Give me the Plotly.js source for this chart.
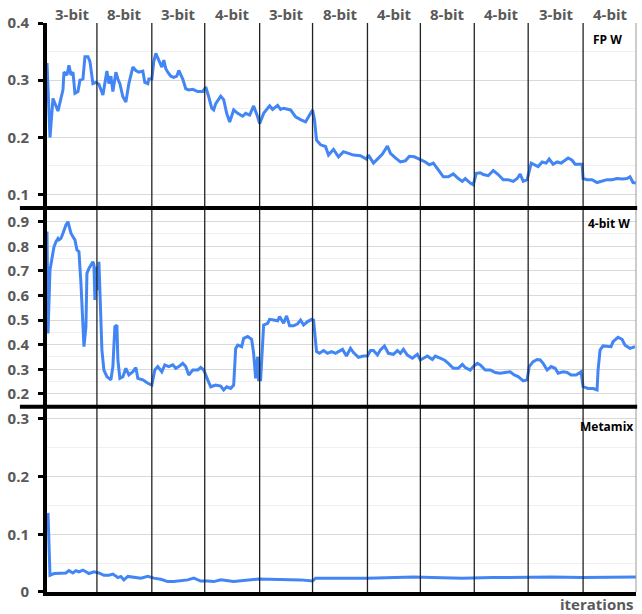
<!DOCTYPE html>
<html>
<head>
<meta charset="utf-8">
<script src="https://cdn.plot.ly/plotly-3.0.1.min.js"></script>
<style>
  html, body { margin: 0; padding: 0; background: #fff; }
  #chart { width: 642px; height: 614px; }
</style>
</head>
<body>
<div id="chart"></div>
<script>
// Training phases: bit-width used in each phase and the iteration where each phase starts/ends
const phaseLabels = ["3-bit", "8-bit", "3-bit", "4-bit", "3-bit", "8-bit", "4-bit", "8-bit", "4-bit", "3-bit", "4-bit"];
const phaseEdges = [4, 54, 109, 162, 217, 270, 325, 378, 432, 486, 541, 594];

// Panel 1: FP W
const fpIter = [4, 7, 10, 15, 20, 21, 24, 26, 28, 30, 32, 35, 37, 40, 42, 45, 47, 50, 53, 56, 60, 62, 64, 66, 68, 70, 73, 75, 77, 80, 83, 86, 90, 93, 96, 100, 102, 105, 106, 109, 111, 113, 116, 119, 121, 123, 125, 128, 131, 134, 136, 140, 143, 146, 150, 155, 160, 163, 166, 169, 171, 173, 178, 181, 184, 187, 191, 195, 200, 203, 207, 211, 215, 217, 221, 224, 227, 230, 235, 238, 241, 248, 253, 258, 263, 266, 270, 272, 274, 278, 283, 286, 291, 296, 301, 306, 311, 318, 324, 326, 331, 335, 340, 345, 348, 353, 358, 363, 367, 372, 377, 383, 387, 391, 396, 401, 406, 411, 416, 420, 423, 428, 431, 434, 438, 441, 446, 451, 456, 461, 466, 471, 475, 478, 481, 485, 489, 493, 496, 500, 504, 507, 511, 515, 519, 523, 526, 530, 533, 540, 541, 545, 550, 555, 560, 565, 570, 575, 580, 585, 588, 591, 594];
const fpVal = [0.33, 0.2, 0.268, 0.246, 0.283, 0.314, 0.309, 0.326, 0.309, 0.314, 0.277, 0.28, 0.3, 0.302, 0.341, 0.341, 0.333, 0.294, 0.296, 0.293, 0.274, 0.296, 0.316, 0.294, 0.307, 0.28, 0.314, 0.302, 0.294, 0.271, 0.262, 0.294, 0.323, 0.317, 0.314, 0.316, 0.296, 0.294, 0.302, 0.302, 0.333, 0.347, 0.335, 0.323, 0.335, 0.32, 0.314, 0.307, 0.305, 0.307, 0.317, 0.302, 0.285, 0.283, 0.284, 0.28, 0.28, 0.288, 0.271, 0.251, 0.248, 0.259, 0.272, 0.266, 0.242, 0.227, 0.248, 0.242, 0.237, 0.242, 0.239, 0.255, 0.236, 0.224, 0.242, 0.248, 0.255, 0.249, 0.256, 0.249, 0.251, 0.248, 0.236, 0.231, 0.227, 0.236, 0.248, 0.23, 0.195, 0.187, 0.184, 0.169, 0.179, 0.166, 0.175, 0.172, 0.169, 0.168, 0.162, 0.169, 0.155, 0.162, 0.171, 0.185, 0.172, 0.164, 0.157, 0.159, 0.167, 0.166, 0.162, 0.157, 0.152, 0.155, 0.143, 0.131, 0.131, 0.136, 0.128, 0.123, 0.128, 0.12, 0.117, 0.137, 0.138, 0.135, 0.133, 0.142, 0.135, 0.126, 0.126, 0.123, 0.128, 0.136, 0.123, 0.126, 0.155, 0.152, 0.149, 0.157, 0.155, 0.162, 0.153, 0.157, 0.155, 0.16, 0.164, 0.16, 0.153, 0.153, 0.128, 0.126, 0.126, 0.121, 0.123, 0.126, 0.126, 0.128, 0.127, 0.128, 0.131, 0.121, 0.12];

// Panel 2: 4-bit W
const w4Iter = [4, 5, 7, 10, 11, 13, 15, 16, 18, 20, 21, 23, 25, 26, 28, 30, 32, 34, 36, 38, 40, 41, 43, 44, 46, 50, 51, 52, 54, 55, 56, 57, 59, 61, 64, 68, 70, 72, 74, 75, 77, 80, 83, 86, 90, 93, 95, 100, 105, 109, 112, 115, 119, 122, 126, 130, 133, 136, 140, 143, 146, 150, 155, 158, 161, 165, 168, 173, 178, 181, 184, 188, 191, 193, 195, 199, 201, 205, 209, 211, 213, 215, 216, 218, 220, 221, 225, 227, 231, 235, 237, 241, 244, 247, 251, 255, 258, 261, 265, 269, 271, 274, 277, 281, 285, 289, 293, 296, 300, 304, 308, 311, 316, 321, 325, 328, 331, 335, 338, 342, 346, 351, 355, 358, 361, 365, 370, 375, 378, 385, 390, 393, 398, 402, 406, 411, 416, 420, 423, 428, 431, 435, 438, 443, 448, 453, 458, 463, 468, 472, 476, 481, 485, 487, 491, 495, 498, 501, 505, 509, 513, 516, 521, 525, 529, 534, 539, 541, 546, 551, 555, 556, 558, 561, 565, 569, 571, 576, 580, 583, 588, 593];
const w4Val = [0.86, 0.446, 0.704, 0.785, 0.798, 0.819, 0.832, 0.826, 0.832, 0.853, 0.866, 0.887, 0.9, 0.887, 0.853, 0.839, 0.826, 0.785, 0.778, 0.65, 0.446, 0.392, 0.473, 0.69, 0.71, 0.737, 0.724, 0.582, 0.718, 0.622, 0.737, 0.582, 0.378, 0.297, 0.27, 0.257, 0.311, 0.473, 0.48, 0.338, 0.263, 0.27, 0.304, 0.277, 0.29, 0.307, 0.263, 0.257, 0.243, 0.236, 0.297, 0.311, 0.29, 0.318, 0.311, 0.318, 0.304, 0.311, 0.324, 0.311, 0.277, 0.297, 0.297, 0.307, 0.297, 0.257, 0.229, 0.236, 0.232, 0.216, 0.229, 0.222, 0.236, 0.385, 0.398, 0.392, 0.426, 0.433, 0.422, 0.365, 0.263, 0.351, 0.257, 0.257, 0.446, 0.48, 0.487, 0.503, 0.5, 0.497, 0.514, 0.487, 0.517, 0.477, 0.477, 0.485, 0.5, 0.48, 0.494, 0.503, 0.5, 0.372, 0.365, 0.376, 0.365, 0.372, 0.365, 0.372, 0.381, 0.354, 0.385, 0.368, 0.349, 0.354, 0.354, 0.376, 0.376, 0.358, 0.379, 0.395, 0.365, 0.361, 0.376, 0.365, 0.381, 0.358, 0.345, 0.361, 0.338, 0.354, 0.34, 0.354, 0.345, 0.338, 0.324, 0.304, 0.304, 0.32, 0.307, 0.297, 0.311, 0.324, 0.318, 0.297, 0.297, 0.287, 0.284, 0.287, 0.29, 0.277, 0.27, 0.253, 0.257, 0.311, 0.331, 0.34, 0.338, 0.324, 0.297, 0.311, 0.304, 0.284, 0.29, 0.287, 0.277, 0.277, 0.29, 0.229, 0.222, 0.222, 0.216, 0.297, 0.378, 0.395, 0.395, 0.392, 0.412, 0.43, 0.422, 0.398, 0.385, 0.392];

// Panel 3: Metamix
const mmIter = [5, 7, 11, 18, 23, 26, 30, 33, 36, 40, 43, 46, 51, 56, 61, 66, 70, 75, 78, 81, 85, 91, 98, 105, 111, 118, 125, 131, 138, 145, 151, 158, 165, 171, 178, 191, 216, 258, 270, 273, 325, 371, 390, 420, 450, 480, 510, 540, 570, 594];
const mmVal = [0.137, 0.029, 0.032, 0.032, 0.033, 0.037, 0.033, 0.037, 0.035, 0.038, 0.035, 0.032, 0.035, 0.033, 0.029, 0.029, 0.031, 0.025, 0.027, 0.021, 0.027, 0.025, 0.024, 0.027, 0.024, 0.022, 0.018, 0.018, 0.019, 0.021, 0.024, 0.019, 0.019, 0.018, 0.021, 0.018, 0.0225, 0.021, 0.019, 0.024, 0.024, 0.026, 0.025, 0.024, 0.025, 0.026, 0.026, 0.025, 0.026, 0.026];

const panelNames = ["FP W", "4-bit W", "Metamix"];
const yRanges = [[0.0766, 0.4], [0.148, 0.956], [0, 0.321]];

const lineColor = "#4285f4";
const tickFont = { family: "Open Sans, sans-serif", size: 15, color: "#595959", weight: 700 };

// Vertical extents of the three stacked panels (bottom to top in paper units)
const domains = [[0.675, 1], [0.3257, 0.675], [0, 0.3257]];

const series = [[fpIter, fpVal], [w4Iter, w4Val], [mmIter, mmVal]];
const traces = series.map((s, i) => ({
  x: s[0], y: s[1],
  xaxis: i === 0 ? "x" : "x" + (i + 1),
  yaxis: i === 0 ? "y" : "y" + (i + 1),
  type: "scatter", mode: "lines",
  line: { color: lineColor, width: 3 },
  hoverinfo: "skip"
}));

const layout = {
  width: 642, height: 614,
  margin: { l: 47, r: 6, t: 23, b: 22 },
  paper_bgcolor: "#fff", plot_bgcolor: "#fff",
  showlegend: false,
  shapes: [], annotations: []
};

const xRange = [phaseEdges[0], phaseEdges[phaseEdges.length - 1]];
for (let i = 0; i < 3; i++) {
  const xk = i === 0 ? "xaxis" : "xaxis" + (i + 1);
  const yk = i === 0 ? "yaxis" : "yaxis" + (i + 1);
  layout[xk] = {
    range: xRange, domain: [0, 1],
    anchor: i === 0 ? "y" : "y" + (i + 1),
    showgrid: false, zeroline: false, showticklabels: false, ticks: "",
    showline: i === 2, linecolor: "#000", linewidth: 4
  };
  if (i > 0) layout[xk].matches = "x";
  layout[yk] = {
    domain: domains[i], range: yRanges[i],
    anchor: i === 0 ? "x" : "x" + (i + 1),
    dtick: 0.1, tick0: 0,
    showgrid: true, gridcolor: "#d9d9d9", gridwidth: 1,
    minor: { dtick: 0.05, showgrid: true, gridcolor: "#f0f0f0", ticks: "" },
    zeroline: false,
    showline: true, linecolor: "#000", linewidth: 4,
    ticks: "outside", ticklen: 5, tickwidth: 3, tickcolor: "#000",
    ticklabelstandoff: 6,
    tickfont: tickFont
  };
}

// Phase boundaries
for (let k = 1; k < phaseEdges.length - 1; k++) {
  layout.shapes.push({
    type: "line", xref: "x", yref: "paper",
    x0: phaseEdges[k], x1: phaseEdges[k], y0: 0, y1: 1,
    line: { color: "#222", width: 1.3 }, layer: "above"
  });
}
// Right border
layout.shapes.push({
  type: "line", xref: "paper", yref: "paper", x0: 1, x1: 1, y0: 0, y1: 1,
  line: { color: "#999", width: 1 }, layer: "above"
});
// Heavy separators between panels
[domains[0][0], domains[1][0]].forEach(yv => {
  layout.shapes.push({
    type: "line", xref: "paper", yref: "paper",
    x0: -0.046, x1: 1.002, y0: yv, y1: yv,
    line: { color: "#000", width: 4 }, layer: "above"
  });
});

// Phase labels along the top
for (let k = 0; k < phaseLabels.length; k++) {
  layout.annotations.push({
    text: phaseLabels[k], xref: "x", yref: "paper",
    x: (phaseEdges[k] + phaseEdges[k + 1]) / 2, y: 1,
    xanchor: "center", yanchor: "bottom", yshift: -3,
    showarrow: false, font: tickFont
  });
}

// Panel names
const nameX = [0.98, 0.993, 0.999];
const nameShift = [-6, -5, -9];
panelNames.forEach((name, i) => {
  layout.annotations.push({
    text: name, xref: "paper", yref: "paper",
    x: nameX[i], y: domains[i][1], xanchor: "right", yanchor: "top",
    yshift: nameShift[i], showarrow: false,
    font: { family: "Open Sans, sans-serif", size: 12, color: "#000", weight: 700 }
  });
});

// Axis caption, tucked into the bottom-right corner
layout.annotations.push({
  text: "iterations", xref: "paper", yref: "paper",
  x: 1.0, y: 0, xanchor: "right", yanchor: "top", yshift: 0,
  showarrow: false, font: tickFont
});

Plotly.newPlot("chart", traces, layout, { displayModeBar: false, staticPlot: true });
</script>
</body>
</html>
